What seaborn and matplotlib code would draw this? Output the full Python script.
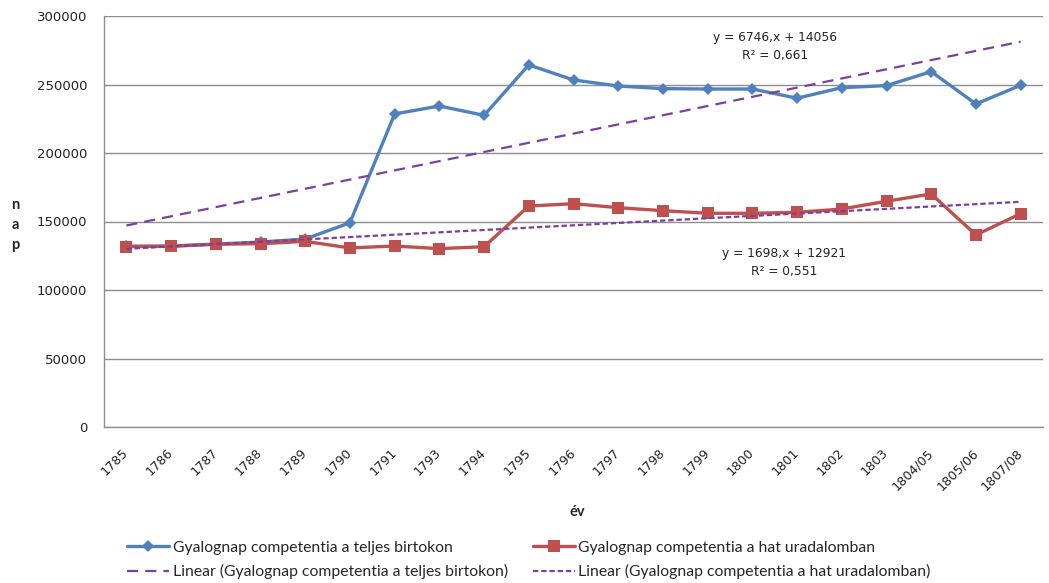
import numpy as np
import matplotlib
matplotlib.use('Agg')
import matplotlib.pyplot as plt
import seaborn as sns

years = ['1785', '1786', '1787', '1788', '1789', '1790', '1791', '1793', '1794', '1795',
         '1796', '1797', '1798', '1799', '1800', '1801', '1802', '1803', '1804/05',
         '1805/06', '1807/08']
teljes = [132000, 132000, 133500, 135000, 137200, 149100, 228500, 234300, 227500, 264300,
          253300, 248900, 247000, 246700, 246700, 240000, 247700, 249200, 259400,
          235800, 249400]
hat = [131600, 132000, 133400, 133800, 135500, 130700, 132100, 130200, 131600, 161300,
       163000, 160100, 157900, 156000, 156000, 156700, 159100, 164800, 170100,
       140200, 155700]
y_ticks = [0, 50000, 100000, 150000, 200000, 250000, 300000]

label_teljes = 'Gyalognap competentia a teljes birtokon'
label_hat = 'Gyalognap competentia a hat uradalomban'
eq_teljes = ['y = 6746,x + 14056', 'R² = 0,661']
eq_hat = ['y = 1698,x + 12921', 'R² = 0,551']

BLUE = '#4F81BD'
RED = '#C0504D'
PURPLE = '#7B3FA0'
GRID = '#8E8E8E'

sns.set_style('white')
plt.rcParams['font.family'] = ['DejaVu Sans']

W, H = 1049, 583
fig = plt.figure(figsize=(W / 100, H / 100), dpi=100)
ax = fig.add_axes([104 / W, 1 - 427 / H, (1043 - 104) / W, (427 - 16) / H])

idx = np.arange(len(years))

sns.lineplot(x=idx, y=teljes, ax=ax, color=BLUE, lw=2.4, marker='D', ms=6.5,
             markeredgewidth=0, label=label_teljes)
sns.lineplot(x=idx, y=hat, ax=ax, color=RED, lw=2.4, marker='s', ms=8,
             markeredgewidth=0, label=label_hat)
sns.regplot(x=idx, y=teljes, ax=ax, scatter=False, ci=None, truncate=True,
            label='Linear (' + label_teljes + ')',
            line_kws=dict(color=PURPLE, lw=1.6, dashes=(5, 3.2)))
sns.regplot(x=idx, y=hat, ax=ax, scatter=False, ci=None, truncate=True,
            label='Linear (' + label_hat + ')',
            line_kws=dict(color=PURPLE, lw=1.6, dashes=(2.4, 1.3)))

ax.set_xlim(-0.5, len(years) - 0.5)
ax.set_ylim(0, 300000)
ax.set_yticks(y_ticks)
ax.set_yticklabels([str(v) for v in y_ticks], fontsize=9.5, color='#222222')
ax.set_xticks(idx)
ax.set_xticklabels(years, rotation=45, ha='right', va='center',
                   rotation_mode='anchor', fontsize=9.2, color='#222222')
ax.set_xticks(np.arange(-0.5, len(years)), minor=True)
ax.tick_params(axis='x', which='major', length=0, pad=17)
ax.tick_params(axis='x', which='minor', length=4, width=1, color=GRID, direction='out')
ax.tick_params(axis='y', length=4, width=1, color=GRID, direction='out', pad=8)
ax.yaxis.grid(True, color=GRID, lw=1)
ax.xaxis.grid(False)
for s in ['top', 'right']:
    ax.spines[s].set_visible(False)
for s in ['left', 'bottom']:
    ax.spines[s].set_color(GRID)
    ax.spines[s].set_linewidth(1)
ax.set_xlabel('')
ax.set_ylabel('')

ax.get_legend().remove()
lines = ax.get_lines()
handles = [lines[0], lines[2], lines[1], lines[3]]
fig.legend(handles=handles, labels=[h.get_label() for h in handles], ncol=2,
           loc='center left', bbox_to_anchor=(127 / W, 1 - 560 / H), frameon=False,
           borderaxespad=0, borderpad=0, handlelength=2.7, handletextpad=0.2,
           columnspacing=1.6, labelspacing=0.62,
           prop=dict(family='Lato', size=11.3))

fig.text(577 / W, 1 - 512 / H, 'év', ha='center', va='center', family='Lato',
         fontweight='bold', fontsize=10.5)
fig.text(15 / W, 1 - 225 / H, 'n\na\np', ha='center', va='center', family='Lato',
         fontweight='bold', fontsize=10.5, linespacing=1.55)

for (cx, cy), txt in zip([(775, 37), (775, 55)], eq_teljes):
    fig.text(cx / W, 1 - cy / H, txt, ha='center', va='center', fontsize=8.8, color='#222222')
for (cx, cy), txt in zip([(784, 254), (784, 271)], eq_hat):
    fig.text(cx / W, 1 - cy / H, txt, ha='center', va='center', fontsize=8.8, color='#222222')

fig.savefig('out.png', dpi=100)
